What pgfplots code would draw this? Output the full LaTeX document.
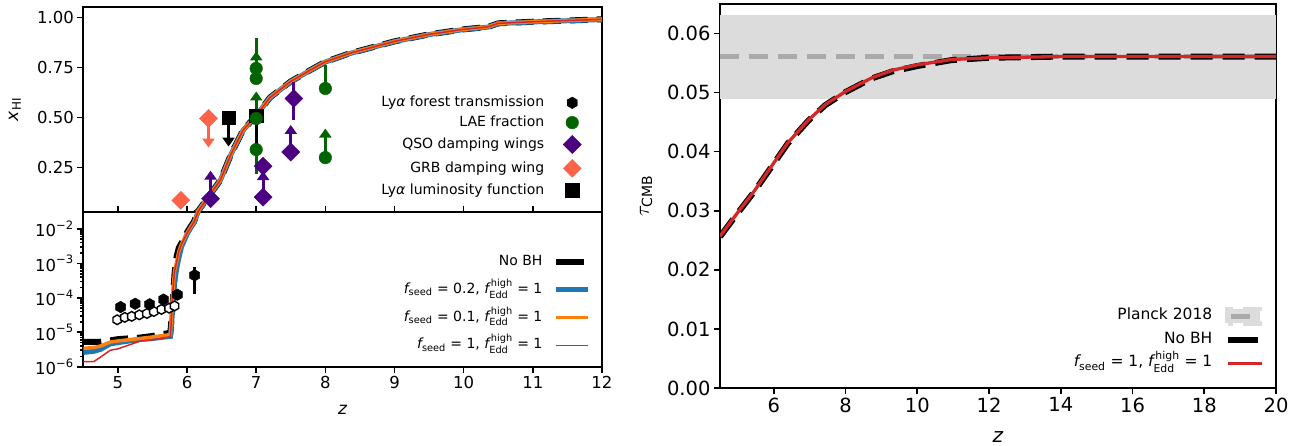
\documentclass[border=0pt]{standalone}
\usepackage{fontspec}
\setmainfont{DejaVu Sans}
\usepackage{amsmath}
\usepackage{pgfplots}
\usepackage{pgfplotstable}
\pgfplotsset{compat=1.18}
\usetikzlibrary{arrows.meta}

\definecolor{cblue}{HTML}{1F77B4}
\definecolor{corange}{HTML}{FF7F0E}
\definecolor{cred}{HTML}{D62728}
\definecolor{dgreen}{HTML}{006400}
\definecolor{indigo}{HTML}{4B0082}
\definecolor{tomato}{HTML}{FF6347}
\definecolor{band}{HTML}{DCDCDC}
\definecolor{plancklin}{HTML}{AAAAAA}

% matplotlib 'h' marker
\pgfdeclareplotmark{hex}{%
  \pgfpathmoveto{\pgfpointpolar{90}{\pgfplotmarksize}}%
  \pgfpathlineto{\pgfpointpolar{150}{\pgfplotmarksize}}%
  \pgfpathlineto{\pgfpointpolar{210}{\pgfplotmarksize}}%
  \pgfpathlineto{\pgfpointpolar{270}{\pgfplotmarksize}}%
  \pgfpathlineto{\pgfpointpolar{330}{\pgfplotmarksize}}%
  \pgfpathlineto{\pgfpointpolar{30}{\pgfplotmarksize}}%
  \pgfpathclose
  \pgfusepathqfillstroke}

% neutral fraction histories
\pgfplotstableread{
z     nobh     fa       fb       fc
4.50  5.3e-6   2.6e-6   3.4e-6   1.4e-6
4.65  5.3e-6   2.8e-6   3.6e-6   1.4e-6
4.75  5.3e-6   3.2e-6   4.0e-6   1.9e-6
4.89  5.8e-6   4.6e-6   5.2e-6   3.0e-6
5.00  6.3e-6   5.0e-6   5.6e-6   3.3e-6
5.32  7.0e-6   6.2e-6   6.6e-6   5.5e-6
5.50  7.8e-6   6.6e-6   7.3e-6   6.0e-6
5.71  9.3e-6   7.4e-6   8.3e-6   7.1e-6
5.76  1.0e-5   7.6e-6   8.5e-6   7.4e-6
5.79  5.8e-5   4.0e-5   1.2e-4   1.2e-4
5.82  5.2e-4   2.6e-4   6.0e-4   6.0e-4
5.85  1.6e-3   7.0e-4   1.1e-3   1.1e-3
5.88  2.8e-3   1.4e-3   2.2e-3   2.2e-3
5.92  3.9e-3   3.0e-3   3.6e-3   3.6e-3
6.00  7.9e-3   7.0e-3   7.5e-3   7.5e-3
6.05  1.15e-2  1.05e-2  1.1e-2   1.1e-2
6.10  1.62e-2  1.5e-2   1.55e-2  1.55e-2
6.16  3.3e-2   3.1e-2   3.2e-2   3.2e-2
6.30  0.100    0.099    0.100    0.100
6.48  0.186    0.185    0.186    0.186
6.64  0.320    0.319    0.320    0.320
6.81  0.437    0.436    0.437    0.437
7.00  0.510    0.509    0.510    0.510
7.20  0.600    0.599    0.600    0.600
7.50  0.680    0.679    0.680    0.680
7.80  0.740    0.739    0.740    0.740
8.00  0.778    0.777    0.778    0.778
8.35  0.820    0.819    0.820    0.820
9.00  0.880    0.879    0.880    0.880
9.50  0.915    0.914    0.915    0.915
10.00 0.940    0.939    0.940    0.940
10.35 0.952    0.951    0.952    0.952
10.50 0.970    0.969    0.970    0.970
11.00 0.978    0.977    0.978    0.978
12.00 0.990    0.989    0.990    0.990
}\xhidata

% optical depth
\pgfplotstableread{
z      nobh     fc
4.50   0.0256   0.0257
4.98   0.0295   0.0296
5.45   0.0332   0.0333
6.00   0.0380   0.0381
6.39   0.0414   0.0415
6.97   0.0453   0.0454
7.44   0.0479   0.0480
8.00   0.0501   0.0502
8.73   0.0524   0.0525
9.31   0.0536   0.0538
10.00  0.0545   0.0547
10.95  0.0555   0.0556
12.00  0.0559   0.0559
14.00  0.0561   0.0561
20.00  0.0561   0.0561
}\taudata

\pgfplotsset{
  every axis/.append style={
    scale only axis, anchor=south west,
    axis line style={line width=2pt},
    every tick/.style={black, line width=1.6pt},
    major tick length=6pt, minor tick length=3.5pt,
    tick align=outside,
    /pgf/number format/assume math mode=true,
  },
}

\begin{document}
\begin{tikzpicture}
\useasboundingbox (0pt,0pt) rectangle (1299pt,445pt);

% ---------------- upper left: linear x_HI ----------------
\begin{axis}[
  at={(83.3pt,233.3pt)}, width=518.7pt, height=204.4pt,
  xmin=4.5, xmax=12, ymin=0.03, ymax=1.05,
  xtick=\empty, ytick pos=left,
  ytick={0.25,0.5,0.75,1}, yticklabels={0.25,0.50,0.75,1.00},
  tick label style={font=\fontsize{16.5}{18}\selectfont},
  ylabel={$\textit{x}_{\text{HI}}$},
  every axis y label/.style={at={(axis description cs:-0.132,0.5)}, rotate=90, anchor=center,
    font=\fontsize{17}{19}\selectfont},
  legend image code/.code={\draw[#1] plot coordinates {(0pt,0pt)};},
  legend cell align=right, legend plot pos=right,
  legend style={draw=none, fill=none, inner sep=0pt,
    font=\fontsize{14}{16}\selectfont,
    at={(rel axis cs:0.9605,0.568)}, anchor=north east,
    nodes={inner sep=0pt, text height=11pt, text depth=3pt},
    row sep=5.8pt, column sep=19pt},
]
\addplot[black, line width=6pt, dash pattern=on 18pt off 9pt, forget plot] table[x=z, y=nobh] {\xhidata};
\addplot[cblue, line width=5pt, forget plot] table[x=z, y=fa] {\xhidata};
\addplot[corange, line width=3.5pt, forget plot] table[x=z, y=fb] {\xhidata};
\addplot[cred, line width=1.5pt, forget plot] table[x=z, y=fc] {\xhidata};

% plain error bars
\addplot[dgreen, only marks, mark=*, mark size=6.3pt, forget plot,
  error bars/.cd, y dir=both, y explicit, error mark=none,
  error bar style={line width=3pt}]
  coordinates {(7.0,0.745) += (0,0.15) -= (0,0) (7.0,0.34) += (0,0.16) -= (0,0.12)
               (8.0,0.645) += (0,0.115) -= (0,0)};
\addplot[black, only marks, mark=square*, mark size=6.6pt, forget plot,
  error bars/.cd, y dir=both, y explicit, error mark=none,
  error bar style={line width=3pt}]
  coordinates {(7.0,0.51) += (0,0.09) -= (0,0.16)};
\addplot[indigo, only marks, mark=square*, mark size=6.4pt, mark options={rotate=45}, forget plot,
  error bars/.cd, y dir=both, y explicit, error mark=none,
  error bar style={line width=3pt}]
  coordinates {(7.1,0.257) += (0,0.03) -= (0,0.03) (7.545,0.595) += (0,0.08) -= (0,0.105)};
% lower limits
\addplot[dgreen, only marks, mark=*, mark size=6.3pt, forget plot,
  error bars/.cd, y dir=plus, y explicit, error mark=none,
  error bar style={line width=3pt, -{Triangle[length=9pt,width=12pt]}}]
  coordinates {(7.0,0.695) += (0,0.135) (7.0,0.495) += (0,0.135) (8.0,0.30) += (0,0.145)};
\addplot[indigo, only marks, mark=square*, mark size=6.4pt, mark options={rotate=45}, forget plot,
  error bars/.cd, y dir=plus, y explicit, error mark=none,
  error bar style={line width=3pt, -{Triangle[length=9pt,width=12pt]}}]
  coordinates {(6.34,0.095) += (0,0.14) (7.1,0.103) += (0,0.13) (7.5,0.328) += (0,0.135)};
% upper limits
\addplot[tomato, only marks, mark=square*, mark size=6.4pt, mark options={rotate=45}, forget plot,
  error bars/.cd, y dir=minus, y explicit, error mark=none,
  error bar style={line width=3pt, -{Triangle[length=9pt,width=12pt]}}]
  coordinates {(6.31,0.495) -= (0,0.145)};
\addplot[black, only marks, mark=square*, mark size=6.6pt, forget plot,
  error bars/.cd, y dir=minus, y explicit, error mark=none,
  error bar style={line width=3pt, -{Triangle[length=9pt,width=12pt]}}]
  coordinates {(6.6,0.50) -= (0,0.145)};
\addplot[tomato, only marks, mark=square*, mark size=6.4pt, mark options={rotate=45}, forget plot]
  coordinates {(5.91,0.087)};

\addlegendimage{black, only marks, mark=hex, mark size=5.8pt}
\addlegendentry{Ly\textit{α} forest transmission}
\addlegendimage{dgreen, only marks, mark=*, mark size=6.3pt}
\addlegendentry{LAE fraction}
\addlegendimage{indigo, only marks, mark=square*, mark size=6.4pt, mark options={rotate=45}}
\addlegendentry{QSO damping wings}
\addlegendimage{tomato, only marks, mark=square*, mark size=6.4pt, mark options={rotate=45}}
\addlegendentry{GRB damping wing}
\addlegendimage{black, only marks, mark=square*, mark size=6.6pt}
\addlegendentry{Ly\textit{α} luminosity function}
\end{axis}

% ---------------- lower left: log x_HI ----------------
\begin{axis}[
  at={(83.3pt,78.3pt)}, width=518.7pt, height=155pt,
  xmin=4.5, xmax=12, ymode=log, ymin=1e-6, ymax=0.0316,
  xtick={5,6,...,12}, xtick pos=both, ytick pos=left,
  ytick={1e-6,1e-5,1e-4,1e-3,1e-2},
  yticklabels={$\text{10}^{\text{−6}}$,$\text{10}^{\text{−5}}$,$\text{10}^{\text{−4}}$,$\text{10}^{\text{−3}}$,$\text{10}^{\text{−2}}$},
  tick label style={font=\fontsize{16.5}{18}\selectfont},
  xlabel={\textit{z}},
  every axis x label/.style={at={(axis description cs:0.5,-0.279)}, anchor=center,
    font=\fontsize{17}{19}\selectfont},
  legend image code/.code={\draw[#1] (0pt,0pt) -- (32pt,0pt);},
  legend cell align=right, legend plot pos=right,
  legend style={draw=none, fill=none, inner sep=0pt,
    font=\fontsize{14}{16}\selectfont,
    at={(rel axis cs:0.979,0.737)}, anchor=north east,
    nodes={inner sep=0pt, text height=13pt, text depth=6pt},
    row sep=8.7pt, column sep=11pt},
]
\addplot[black, line width=6pt, dash pattern=on 18pt off 9pt,
  legend image code/.code={\draw[black, solid, line width=6pt] (0pt,0pt) -- (28pt,0pt);}]
  table[x=z, y=nobh] {\xhidata};
\addlegendentry{No BH}
\addplot[cblue, line width=5pt] table[x=z, y=fa] {\xhidata};
\addlegendentry{$\textit{f}_{\text{seed}}\text{ = 0.2, }\textit{f}^{\,\text{high}}_{\text{Edd}}\text{ = 1}$}
\addplot[corange, line width=3.5pt] table[x=z, y=fb] {\xhidata};
\addlegendentry{$\textit{f}_{\text{seed}}\text{ = 0.1, }\textit{f}^{\,\text{high}}_{\text{Edd}}\text{ = 1}$}
\addplot[cred, line width=1.5pt] table[x=z, y=fc] {\xhidata};
\addlegendentry{$\textit{f}_{\text{seed}}\text{ = 1, }\textit{f}^{\,\text{high}}_{\text{Edd}}\text{ = 1}$}

% Lya forest constraints
\addplot[black, only marks, mark=hex, mark size=4.8pt, mark options={fill=white, line width=1.4pt}, forget plot]
  coordinates {(4.99,2.3e-5) (5.10,2.7e-5) (5.20,2.9e-5) (5.31,3.2e-5) (5.42,3.5e-5)
               (5.52,4.0e-5) (5.63,4.6e-5) (5.74,5.0e-5) (5.82,5.8e-5)};
\addplot[black, only marks, mark=hex, mark size=5.8pt, forget plot,
  error bars/.cd, y dir=both, y explicit, error mark=none,
  error bar style={line width=3pt}]
  coordinates {(5.04,5.4e-5) += (0,0.8e-5) -= (0,0.8e-5)
               (5.25,6.7e-5) += (0,1e-5) -= (0,1e-5)
               (5.46,6.5e-5) += (0,1e-5) -= (0,1e-5)
               (5.66,8.9e-5) += (0,1.3e-5) -= (0,1.3e-5)
               (5.86,1.23e-4) += (0,2e-5) -= (0,2e-5)
               (6.11,4.5e-4) += (0,3.1e-4) -= (0,3.2e-4)};
\end{axis}

% ---------------- right: tau_CMB ----------------
\begin{axis}[
  at={(720pt,57pt)}, width=556pt, height=384pt,
  xmin=4.5, xmax=20, ymin=0, ymax=0.065,
  xtick={6,8,...,20}, xtick pos=left, ytick pos=left,
  ytick={0,0.01,...,0.06},
  yticklabels={0.00,0.01,0.02,0.03,0.04,0.05,0.06},
  tick label style={font=\fontsize{19.5}{22}\selectfont},
  xlabel={\textit{z}}, ylabel={$\tau_{\text{CMB}}$},
  every axis x label/.style={at={(axis description cs:0.5,-0.127)}, anchor=center,
    font=\fontsize{20}{22}\selectfont},
  every axis y label/.style={at={(axis description cs:-0.133,0.5)}, rotate=90, anchor=center,
    font=\fontsize{20}{22}\selectfont},
  legend image code/.code={\draw[#1] (0pt,0pt) -- (34pt,0pt);},
  legend cell align=right, legend plot pos=right,
  legend style={draw=none, fill=none, inner sep=0pt,
    font=\fontsize{15.5}{17}\selectfont,
    at={(rel axis cs:0.978,0.212)}, anchor=north east,
    nodes={inner sep=0pt, text height=12pt, text depth=5pt},
    row sep=6pt, column sep=12.6pt},
]
\addplot[draw=none, fill=band, forget plot] coordinates {(4.5,0.0489) (20,0.0489) (20,0.0632) (4.5,0.0632)} -- cycle;
\addplot[plancklin, line width=5pt, dash pattern=on 19pt off 10pt,
  legend image code/.code={\fill[band] (0pt,-7pt) rectangle (32pt,7pt);
    \draw[plancklin, solid, line width=5pt] (3pt,0pt) -- (22pt,0pt);}]
  coordinates {(4.5,0.0561) (20,0.0561)};
\addlegendentry{Planck 2018}
\addplot[black, line width=6pt, dash pattern=on 22pt off 10pt,
  legend image code/.code={\draw[black, solid, line width=6pt] (0pt,0pt) -- (30pt,0pt);}]
  table[x=z, y=nobh] {\taudata};
\addlegendentry{No BH}
\addplot[cred, line width=3.3pt] table[x=z, y=fc] {\taudata};
\addlegendentry{$\textit{f}_{\text{seed}}\text{ = 1, }\textit{f}^{\,\text{high}}_{\text{Edd}}\text{ = 1}$}
\end{axis}
\end{tikzpicture}
\end{document}
